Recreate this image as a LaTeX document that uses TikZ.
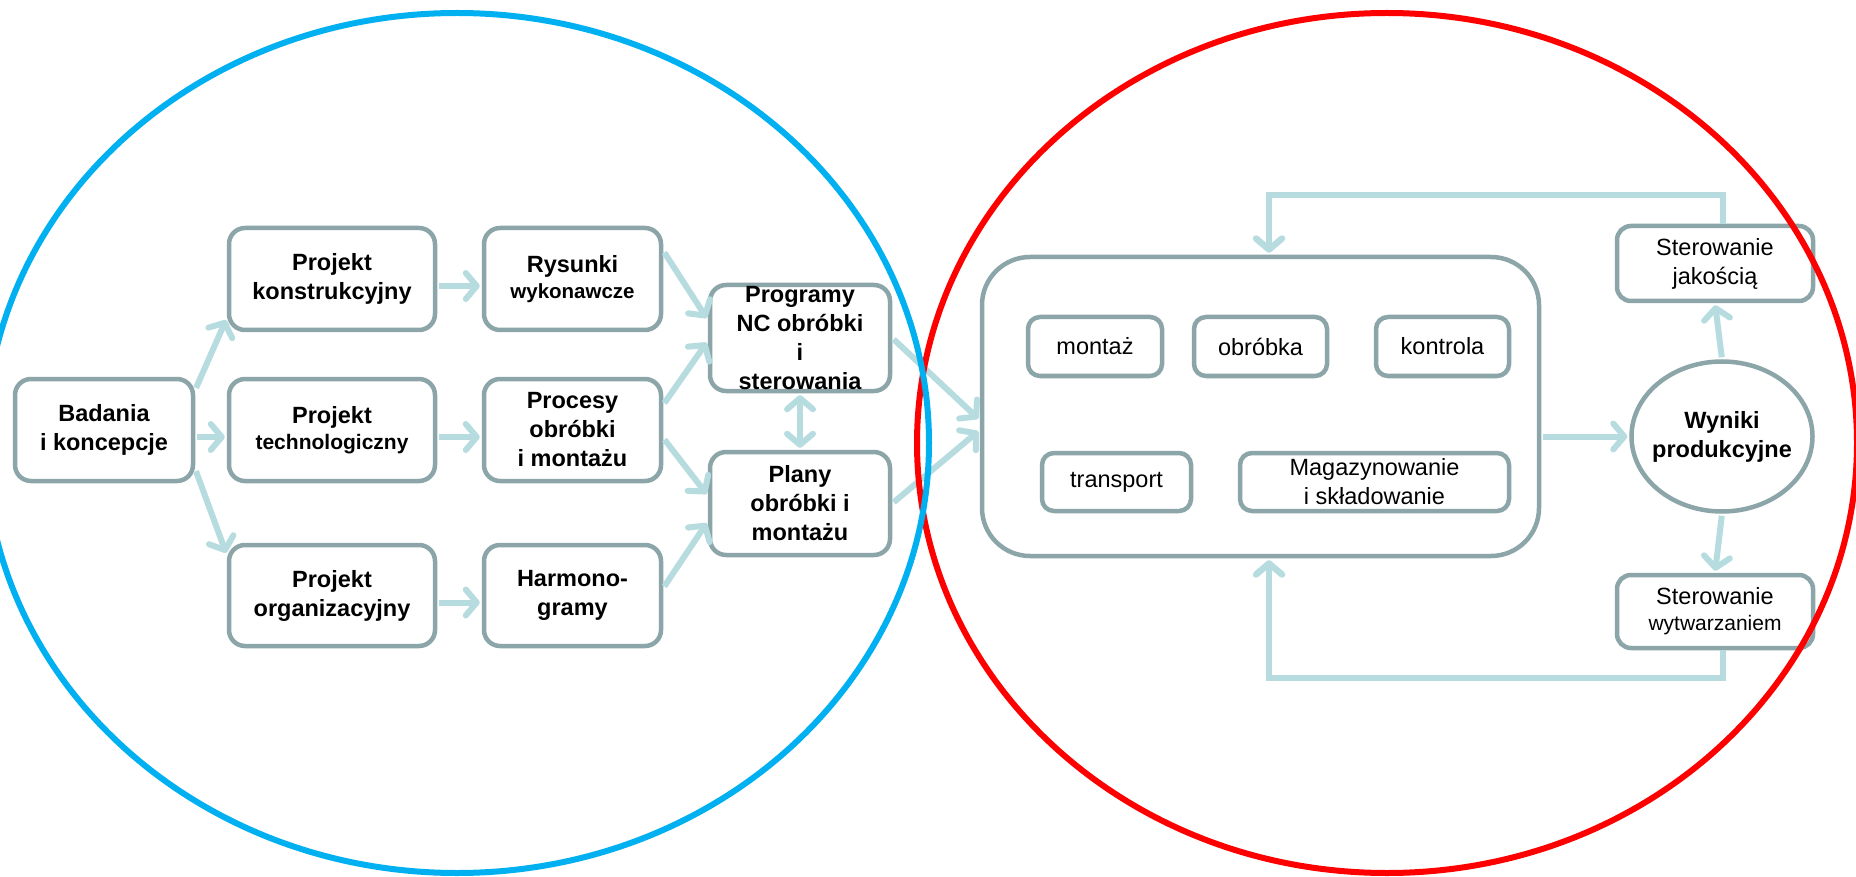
\documentclass[tikz,border=0pt]{standalone}
\usepackage{fontspec}
\setmainfont{Liberation Sans}
\usetikzlibrary{arrows.meta,shapes.geometric}
\definecolor{boxline}{RGB}{139,165,168}
\definecolor{flow}{RGB}{182,220,224}
\definecolor{designblue}{RGB}{0,176,240}
\definecolor{prodred}{RGB}{255,0,0}
\begin{document}
\begin{tikzpicture}[x=1pt,y=-1pt,
  >={Straight Barb[length=11pt,width=26pt,round]},
  box/.style={draw=boxline, line width=4.5pt, rounded corners=16pt, fill=white,
    inner sep=0pt, align=center},
  smallbox/.style={box, rounded corners=12pt},
  boldtxt/.style={font=\bfseries\fontsize{23.5}{29}\selectfont},
  regtxt/.style={font=\fontsize{23.5}{29}\selectfont},
  flowarrow/.style={draw=flow, line width=6pt, ->, shorten >=2pt, shorten <=2pt},
  feedback/.style={draw=flow, line width=6.5pt, ->, shorten >=2pt}
]
\fill[white] (0,0) rectangle (1856,877);
\useasboundingbox (0,0) rectangle (1856,877);

% design stage: first column
\node[box, boldtxt, minimum width=178pt, minimum height=102pt] (bad) at (104,430) {Badania\\i koncepcje};
% second column
\node[box, boldtxt, minimum width=206pt, minimum height=102pt] (kon) at (332,279) {Projekt\\konstrukcyjny};
\node[box, boldtxt, minimum width=206pt, minimum height=102pt] (tech) at (332,430)
  {Projekt\\[-3pt]{\fontsize{21}{26}\selectfont technologiczny}};
\node[box, boldtxt, minimum width=206pt, minimum height=101pt] (org) at (332,595.5) {Projekt\\organizacyjny};
% third column
\node[box, boldtxt, minimum width=177pt, minimum height=102pt] (rys) at (572.5,279)
  {Rysunki\\[-3pt]{\fontsize{20.5}{26}\selectfont wykonawcze}};
\node[box, boldtxt, minimum width=177pt, minimum height=102pt] (proc) at (572.5,430) {Procesy\\obróbki\\i montażu};
\node[box, boldtxt, minimum width=177pt, minimum height=101pt] (harm) at (572.5,595.5) {Harmono-\\gramy};
% fourth column
\node[box, minimum width=180pt, minimum height=106pt] (prog) at (800,338) {};
\node[boldtxt, align=center, inner sep=0pt] (progtxt) at (prog.center) {Programy\\NC obróbki\\i\\sterowania};
\node[box, boldtxt, minimum width=180pt, minimum height=103pt] (plan) at (800,503.5) {Plany\\obróbki i\\montażu};

% production system
\node[box, rounded corners=48pt, minimum width=557pt, minimum height=299pt] (big) at (1260.5,406.5) {};
\node[smallbox, regtxt, minimum width=134pt, minimum height=59pt] (mon) at (1095,346.5) {montaż};
\node[smallbox, regtxt, minimum width=133pt, minimum height=59pt] (obr) at (1260.5,346.5) {obróbka};
\node[smallbox, regtxt, minimum width=133pt, minimum height=59pt] (ktr) at (1442.5,346.5) {kontrola};
\node[smallbox, regtxt, minimum width=149pt, minimum height=58pt] (trn) at (1116.5,482) {transport};
\node[smallbox, regtxt, minimum width=269pt, minimum height=58pt] (mag) at (1374.5,482) {Magazynowanie\\i składowanie};

% results and control
\node[draw=boxline, line width=4.5pt, ellipse, fill=white, inner sep=0pt,
  minimum width=181pt, minimum height=150pt] (wyn) at (1722,436.5) {};
\node[boldtxt, align=center, inner sep=0pt] (wyntxt) at (wyn.center) {Wyniki\\produkcyjne};
\node[smallbox, rounded corners=14pt, regtxt, minimum width=196pt, minimum height=75pt] (jak) at (1715,263.5) {Sterowanie\\jakością};
\node[smallbox, rounded corners=14pt, regtxt, minimum width=196pt, minimum height=73pt] (wytw) at (1715,611.5)
  {Sterowanie\\[-3pt]{\fontsize{21}{26}\selectfont wytwarzaniem}};

% design flow
\draw[flowarrow] ([yshift=-13pt]bad.north east) -- ([yshift=14pt]kon.south west);
\draw[flowarrow] ([yshift=-7pt]bad.east) -- ([yshift=-7pt]tech.west);
\draw[flowarrow] ([yshift=14pt]bad.south east) -- ([yshift=-12pt]org.north west);
\draw[flowarrow] ([yshift=-7pt]kon.east) -- ([yshift=-7pt]rys.west);
\draw[flowarrow] ([yshift=-7pt]tech.east) -- ([yshift=-7pt]proc.west);
\draw[flowarrow] ([yshift=-7pt]org.east) -- ([yshift=-7pt]harm.west);
\draw[flowarrow] ([yshift=-25pt]rys.north east) -- ([yshift=-37pt]prog.north west);
\draw[flowarrow] ([yshift=-28pt]proc.north east) -- ([yshift=-3pt]prog.west);
\draw[flowarrow] ([yshift=-8pt]proc.east) -- ([yshift=8pt]plan.west);
\draw[flowarrow] ([yshift=7.5pt]harm.east) -- ([yshift=-18pt]plan.west);
\draw[flowarrow, <->] (prog.south) -- (plan.north);
\draw[flowarrow] (prog.east) -- ([yshift=-13.5pt]big.west);
\draw[flowarrow] (plan.east) -- ([yshift=-23.5pt]big.west);

% production flow and feedback loops
\draw[flowarrow] (big.east |- wyn.west) -- (wyn.west);
\draw[flowarrow] (wyn.north) -- (jak.south);
\draw[flowarrow] (wyn.south) -- (wytw.north);
\coordinate (fbtop) at (1269,195);
\coordinate (fbbot) at (1269,678);
\draw[feedback] ([xshift=8pt]jak.north) |- (fbtop) -- (fbtop |- big.north);
\draw[feedback] ([xshift=8pt]wytw.south) |- (fbbot) -- (fbbot |- big.south);

% the two stages
\draw[prodred, line width=6pt] (1387,443) ellipse [x radius=470pt, y radius=430pt];
\draw[designblue, line width=6pt] (457,443) ellipse [x radius=472pt, y radius=430pt];
\end{tikzpicture}
\end{document}
